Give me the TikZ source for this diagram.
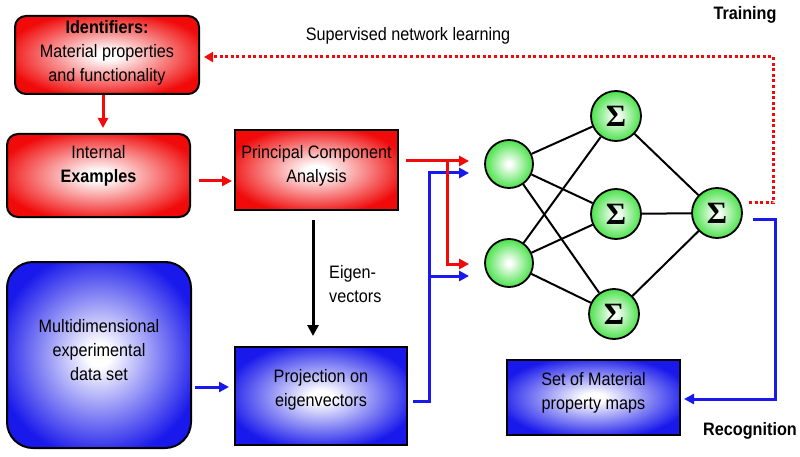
\documentclass[tikz,border=0pt]{standalone}
\usepackage{fontspec}
\setmainfont{Liberation Sans}[FakeStretch=0.9]
\newfontfamily\sigmafont{Liberation Serif}
\usetikzlibrary{arrows.meta}
\definecolor{myred}{RGB}{240,10,10}
\definecolor{myblue}{RGB}{25,25,235}
\definecolor{mygreen}{RGB}{35,220,35}
\pgfdeclareradialshading{redglow}{\pgfpoint{0bp}{0bp}}{color(0bp)=(white); color(3bp)=(white); color(28bp)=(myred); color(100bp)=(myred)}
\pgfdeclareradialshading{blueglow}{\pgfpoint{0bp}{0bp}}{color(0bp)=(white); color(3bp)=(white); color(28bp)=(myblue); color(100bp)=(myblue)}
\pgfdeclareradialshading{greenglow}{\pgfpoint{0bp}{0bp}}{color(0bp)=(white); color(2bp)=(white); color(30bp)=(mygreen); color(100bp)=(mygreen)}
\tikzset{
  redbox/.style={draw=black, line width=2pt, shading=redglow, inner sep=0pt},
  bluebox/.style={draw=black, line width=2pt, shading=blueglow, inner sep=0pt},
  txt/.style={align=center, inner sep=0pt},
  neuron/.style={circle, draw=black, line width=1.8pt, shading=greenglow, minimum size=48pt, inner sep=0pt},
  sneuron/.style={neuron, minimum size=50pt, font=\sigmafont\bfseries\fontsize{31}{31}\selectfont},
  redarr/.style={draw=myred, line width=3pt, -{Triangle[length=10pt,width=10pt]}},
  bluearr/.style={draw=myblue, line width=3pt, -{Triangle[length=10pt,width=10pt]}},
  blackarr/.style={draw=black, line width=3pt, -{Triangle[length=11pt,width=11pt]}},
  reddot/.style={draw=myred, line width=3pt, dash pattern=on 3pt off 2.6pt, -{Triangle[length=9pt,width=10pt]}},
  edge/.style={draw=black, line width=2pt},
}
\begin{document}
\begin{tikzpicture}[x=1pt, y=-1pt, font=\fontsize{18}{24}\selectfont]
\useasboundingbox (0,0) rectangle (800,457);
% boxes
\node[redbox, rounded corners=11pt, minimum width=184pt, minimum height=78pt] (idf) at (107,55) {};
\node[txt] (idft) at (107,53) {\textbf{Identifiers:}\\Material properties\\and functionality};
\node[redbox, rounded corners=11pt, minimum width=183pt, minimum height=83pt] (intex) at (98.5,175.5) {};
\node[txt] (intext) at (98.5,166) {Internal\\\textbf{Examples}};
\node[redbox, minimum width=163pt, minimum height=80pt] (pca) at (316.5,170) {};
\node[txt] (pcat) at (316.5,166) {Principal Component\\Analysis};
\node[bluebox, rounded corners=26pt, minimum width=184pt, minimum height=186pt] (multi) at (99,355) {};
\node[txt] (multit) at (99,350) {Multidimensional\\experimental\\data set};
\node[bluebox, minimum width=172pt, minimum height=98pt] (proj) at (321,396) {};
\node[txt] (projt) at (321,389.5) {Projection on\\eigenvectors};
\node[bluebox, minimum width=173pt, minimum height=75pt] (setm) at (593.5,397.5) {};
\node[txt] (setmt) at (593.5,392.5) {Set of Material\\property maps};
% network
\node[neuron] (in1) at (509,164) {};
\node[neuron] (in2) at (509,263) {};
\node[sneuron] (h1) at (616,116) {Σ};
\node[sneuron] (h2) at (616,214) {Σ};
\node[sneuron] (h3) at (614,314) {Σ};
\node[sneuron] (out) at (717,213) {Σ};
% labels
\node[txt, align=left, anchor=west] (eig) at (329,284) {Eigen-\\vectors};
\node[txt] (sup) at (408,36) {Supervised network learning};
\node[txt] (train) at (745,15) {\textbf{Training}};
\node[txt] (recog) at (750,431) {\textbf{Recognition}};
% connectors
\draw[redarr] ([xshift=-4pt]idf.south) -- ([xshift=4.5pt,yshift=5pt]intex.north);
\draw[redarr] ([xshift=8pt,yshift=-5.5pt]intex.east) -- ([xshift=-2pt,yshift=-11pt]pca.west);
\draw[blackarr] ([xshift=-3.5pt,yshift=-9pt]pca.south) -- ([xshift=-8pt,yshift=10pt]proj.north);
\draw[bluearr] ([xshift=3pt,yshift=-32pt]multi.east) -- ([xshift=-5pt,yshift=9pt]proj.west);
\coordinate (rj) at (447,161);
\coordinate (bj) at (428,276);
\draw[bluearr] ([xshift=5pt,yshift=-5pt]proj.east) -- ++(16,0) |- ([xshift=-15pt,yshift=-9pt]in1.west);
\draw[bluearr] (bj) -- ([xshift=-15pt,yshift=-13pt]in2.west);
\draw[redarr] ([xshift=7pt,yshift=9pt]pca.east) -- ([xshift=-15pt,yshift=3pt]in1.west);
\draw[redarr] (rj) |- ([xshift=-15pt,yshift=-1pt]in2.west);
\foreach \i in {in1,in2} \foreach \h in {h1,h2,h3} \draw[edge] (\i) -- (\h);
\foreach \h in {h1,h2,h3} \draw[edge] (\h) -- (out);
\draw[reddot] ([xshift=6pt,yshift=10pt]out.east) -- ++(25,0) |- ([xshift=4pt,yshift=-2pt]idf.east);
\draw[bluearr] ([xshift=10pt,yshift=-6pt]out.east) -- ++(23,0) |- ([xshift=3pt,yshift=-1.5pt]setm.east);
\end{tikzpicture}
\end{document}
